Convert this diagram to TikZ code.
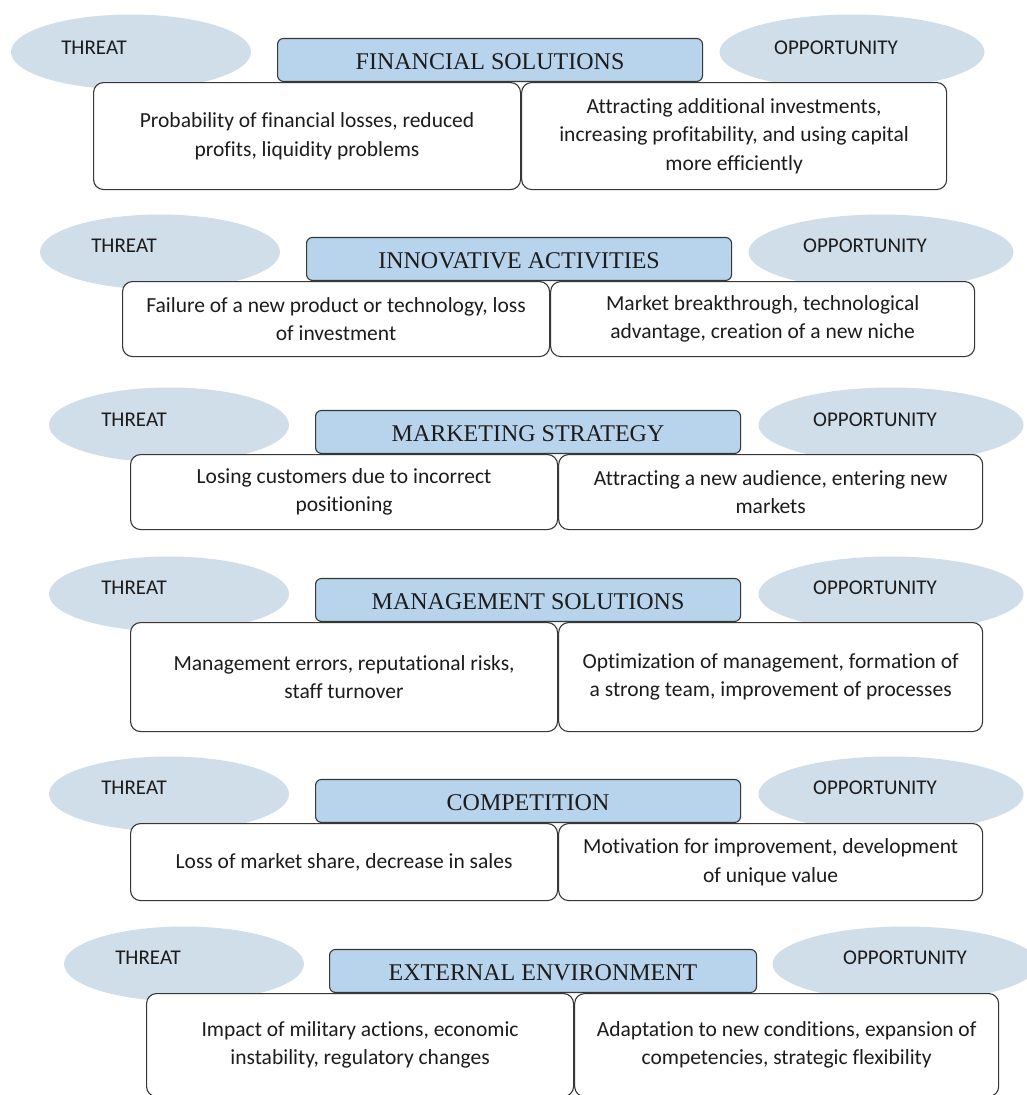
\documentclass[tikz,border=0pt]{standalone}
\usepackage{fontspec}
\setmainfont{Carlito}[Ligatures=NoCommon]
\newfontfamily\titlefont{Liberation Serif}
\usepackage{xcolor}
\usepackage{tikz}
\usetikzlibrary{positioning,shapes.geometric}
\definecolor{ovalblue}{RGB}{208,222,234}
\definecolor{headblue}{RGB}{184,211,236}
\definecolor{edgegray}{RGB}{55,55,55}
\definecolor{inkgray}{RGB}{28,28,28}

\begin{document}
\begin{tikzpicture}[
					x=1pt, y=-1pt,
					oval/.style={
						ellipse, fill=ovalblue, draw=none,
						minimum width=240pt, minimum height=75pt, inner sep=0pt
					},
					ovaltext/.style={
						text=inkgray, font=\fontsize{21}{25}\selectfont, inner sep=0pt
					},
					head/.style={
						draw=edgegray, fill=headblue, line width=1.1pt,
						rounded corners=6pt, minimum width=425pt, minimum height=43pt,
						text=inkgray, font=\titlefont\fontsize{24}{28}\selectfont,
						text height=19pt, text depth=0pt,
						inner sep=0pt, anchor=south west
					},
					cell/.style={
						draw=edgegray, fill=white, line width=1.1pt,
						rounded corners=10pt, minimum width=427pt,
						text=inkgray, font=\fontsize{21.5}{28.5}\selectfont,
						align=center, inner sep=0pt
					}
					]
					\path[use as bounding box, clip] (0,0) rectangle (1027,1095);
					\fill[white] (0,0) rectangle (1027,1095);
					
					% financial solutions
					\node[oval] (t1) at (131,52) {};
					\node[oval, minimum width=265pt] (p1) at (852,52) {};
					\node[ovaltext] (t1l) at (94,48) {THREAT};
					\node[ovaltext] (p1l) at (836,48) {OPPORTUNITY};
					\node[head] (h1) at (277,82) {FINANCIAL SOLUTIONS};
					\node[cell, anchor=north west, minimum height=107pt] (a1) at (93,82)
						{Probability of financial losses, reduced\\profits, liquidity problems};
					\node[cell, right=0pt of a1, minimum width=425pt, minimum height=107pt] (b1)
						{Attracting additional investments,\\increasing profitability, and using capital\\more efficiently};
					
					% innovative activities
					\node[oval] (t2) at (160,252) {};
					\node[oval, minimum width=265pt] (p2) at (881,252) {};
					\node[ovaltext] (t2l) at (124,246) {THREAT};
					\node[ovaltext] (p2l) at (865,246) {OPPORTUNITY};
					\node[head] (h2) at (306,281) {INNOVATIVE ACTIVITIES};
					\node[cell, anchor=north west, minimum height=75pt] (a2) at (122,281)
						{Failure of a new product or technology, loss\\of investment};
					\node[cell, right=0pt of a2, minimum width=424pt, minimum height=75pt] (b2)
						{Market breakthrough, technological\\advantage, creation of a new niche};
					
					% marketing strategy
					\node[oval] (t3) at (169,425) {};
					\node[oval, minimum width=265pt] (p3) at (891,425) {};
					\node[ovaltext] (t3l) at (134,420) {THREAT};
					\node[ovaltext] (p3l) at (875,420) {OPPORTUNITY};
					\node[head] (h3) at (315,454) {MARKETING STRATEGY};
					\node[cell, anchor=north west, minimum height=75pt] (a3) at (130,454)
						{Losing customers due to incorrect\\positioning};
					\node[cell, right=0pt of a3, minimum width=424pt, minimum height=75pt] (b3)
						{Attracting a new audience, entering new\\markets};
					
					% management solutions
					\node[oval] (t4) at (169,594) {};
					\node[oval, minimum width=265pt] (p4) at (891,594) {};
					\node[ovaltext] (t4l) at (134,588) {THREAT};
					\node[ovaltext] (p4l) at (875,588) {OPPORTUNITY};
					\node[head] (h4) at (315,622) {MANAGEMENT SOLUTIONS};
					\node[cell, anchor=north west, minimum height=109pt] (a4) at (130,622)
						{Management errors, reputational risks,\\staff turnover};
					\node[cell, right=0pt of a4, minimum width=424pt, minimum height=109pt] (b4)
						{Optimization of management, formation of\\a strong team, improvement of processes};
					
					% competition
					\node[oval] (t5) at (169,794) {};
					\node[oval, minimum width=265pt] (p5) at (891,794) {};
					\node[ovaltext] (t5l) at (134,788) {THREAT};
					\node[ovaltext] (p5l) at (875,788) {OPPORTUNITY};
					\node[head] (h5) at (315,823) {COMPETITION};
					\node[cell, anchor=north west, minimum height=77pt] (a5) at (130,823)
						{Loss of market share, decrease in sales};
					\node[cell, right=0pt of a5, minimum width=424pt, minimum height=77pt] (b5)
						{Motivation for improvement, development\\of unique value};
					
					% external environment
					\node[oval] (t6) at (184,964) {};
					\node[oval, minimum width=265pt] (p6) at (905,964) {};
					\node[ovaltext] (t6l) at (148,958) {THREAT};
					\node[ovaltext] (p6l) at (905,958) {OPPORTUNITY};
					\node[head, minimum width=427pt] (h6) at (329,993) {EXTERNAL ENVIRONMENT};
					\node[cell, anchor=north west, minimum height=103pt] (a6) at (146,993)
						{Impact of military actions, economic\\instability, regulatory changes};
					\node[cell, right=0pt of a6, minimum width=424pt, minimum height=103pt] (b6)
						{Adaptation to new conditions, expansion of\\competencies, strategic flexibility};
				\end{tikzpicture}
\end{document}
